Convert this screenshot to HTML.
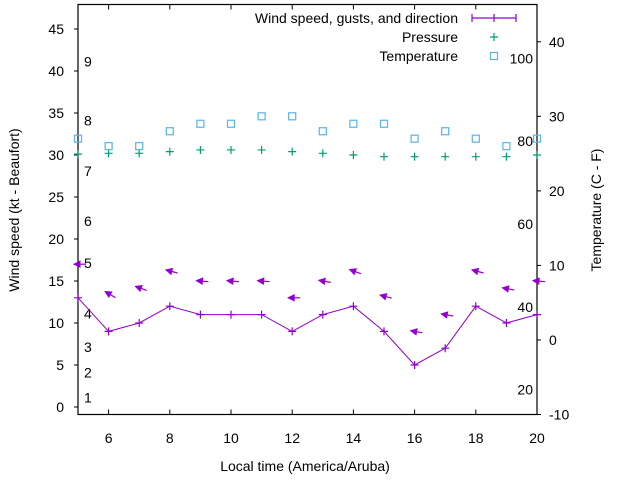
<!DOCTYPE html>
<html><head><meta charset="utf-8"><style>
body{margin:0;background:#fff;}
svg{display:block;font-family:"Liberation Sans",sans-serif;}
</style></head><body>
<svg id="chart" width="640" height="480" viewBox="0 0 640 480">
<g id="axes"></g>
<g id="marks"></g>
<text x="305" y="471" font-size="14" text-anchor="middle">Local time (America/Aruba)</text>
<text transform="translate(19,210) rotate(-90)" font-size="14" text-anchor="middle">Wind speed (kt - Beaufort)</text>
<text transform="translate(601,210) rotate(-90)" font-size="14" text-anchor="middle">Temperature (C - F)</text>
<g font-size="14">
<g><text x="458" y="23" text-anchor="end">Wind speed, gusts, and direction</text>
<path d="M472 18H516M472 14V22M516 14V22M494 14V22" stroke="#9400d3" stroke-width="1.2"/></g>
<g><text x="458" y="42" text-anchor="end">Pressure</text>
<path d="M490 37H498M494 33V41" stroke="#009e73" stroke-width="1.2"/></g>
<g><text x="458" y="61" text-anchor="end">Temperature</text>
<rect x="490.5" y="52.5" width="7" height="7" fill="none" stroke="#56b4e9" stroke-width="1.2"/></g>
</g>
</svg>
<script>
const hours=[5,6,7,8,9,10,11,12,13,14,15,16,17,18,19,20];
const windSpeed=[13,9,10,12,11,11,11,9,11,12,9,5,7,12,10,11];
const gust=[17,13.5,14.2,16.2,15,15,15,13,15,16.2,13.2,9,11,16.2,14.1,15];
const windDir=[90,120,110,105,95,95,95,90,100,110,105,100,100,105,100,95];
const pressure=[30.1,30.2,30.2,30.4,30.6,30.6,30.6,30.4,30.2,30.0,29.8,29.8,29.8,29.8,29.8,30.0];
const temperature=[27,26,26,28,29,29,30,30,28,29,29,27,28,27,26,27];
const xTicks=[6,8,10,12,14,16,18,20];
const yTicks=[0,5,10,15,20,25,30,35,40,45];
const y2Ticks=[-10,0,10,20,30,40];
const beaufortLabels=[1,2,3,4,5,6,7,8,9];
const beaufortKt=[1,4,7,11,17,22,28,34,41];
const fahrenheit=[20,40,60,80,100];
const NS='http://www.w3.org/2000/svg';
const L=78,R=537,T=4.5,B=414.5;
const x=h=>L+(h-5)*(R-L)/15;
const y=v=>407-v*8.4;
const y2=c=>B-(c+10)*(B-T)/55;
function mk(tag,attrs,parent,txt){const e=document.createElementNS(NS,tag);for(const k in attrs)e.setAttribute(k,attrs[k]);if(txt!==undefined)e.textContent=txt;parent.appendChild(e);return e;}
const ax=document.getElementById('axes'),mg=document.getElementById('marks');
const frame=mk('rect',{x:L,y:T,width:R-L,height:B-T,fill:'none',stroke:'#000','stroke-width':1.2},ax);


xTicks.forEach(h=>{
 const t=mk('path',{d:`M${x(h)} ${B}v-5M${x(h)} ${T}v5`,stroke:'#000'},ax);
 
 
 const l=mk('text',{x:x(h),y:443,'font-size':14,'text-anchor':'middle'},ax,h);
 
 
});
yTicks.forEach(v=>{
 const t=mk('path',{d:`M${L-4} ${y(v)}h4`,stroke:'#000'},ax);
 
 
 const l=mk('text',{x:64,y:y(v)+5,'font-size':14,'text-anchor':'end'},ax,v);
 
 
});
y2Ticks.forEach(c=>{
 const t=mk('path',{d:`M${R} ${y2(c)}h4`,stroke:'#000'},ax);
 
 
 const l=mk('text',{x:549,y:y2(c)+5,'font-size':14},ax,c);
 
 
});
beaufortLabels.forEach((b,i)=>{
 const l=mk('text',{x:84,y:y(beaufortKt[i])+4,'font-size':14},ax,b);
 
 
});
fahrenheit.forEach(f=>{
 const l=mk('text',{x:533,y:y2((f-32)*5/9)+5,'font-size':14,'text-anchor':'end'},ax,f);
 
 
});
const pts=hours.map((h,i)=>`${x(h)},${y(windSpeed[i])}`).join(' ');
const line=mk('polyline',{points:pts,fill:'none',stroke:'#9400d3','stroke-width':1},mg);


hours.forEach((h,i)=>{
 const cx=x(h),cy=y(windSpeed[i]);
 const p=mk('path',{d:`M${cx-4} ${cy}h8M${cx} ${cy-4}v8`,stroke:'#9400d3','stroke-width':1.2},mg);
 
 
 const a=(windDir[i]-90)*Math.PI/180;
 const gx=cx,gy=y(gust[i]);
 const dx=Math.cos(a),dy=Math.sin(a);
 const hx=gx-4*dx,hy=gy-4*dy,tx=gx+8*dx,ty=gy+8*dy;
 const px=-dy,py=dx;
 const arr=mk('g',{},mg);
 
 
 mk('path',{d:`M${tx} ${ty}L${hx} ${hy}`,stroke:'#9400d3','stroke-width':1.2},arr);
 mk('path',{d:`M${hx} ${hy}L${hx+6*dx+3*px} ${hy+6*dy+3*py}L${hx+6*dx-3*px} ${hy+6*dy-3*py}Z`,fill:'#9400d3',stroke:'#9400d3'},arr);
 const pr=mk('path',{d:`M${cx-4} ${y(pressure[i])}h8M${cx} ${y(pressure[i])-4}v8`,stroke:'#009e73','stroke-width':1.2},mg);
 
 
 const tq=mk('rect',{x:cx-3.5,y:y2(temperature[i])-3.5,width:7,height:7,fill:'none',stroke:'#56b4e9','stroke-width':1.2},mg);
 
 
});
</script>
</body></html>
